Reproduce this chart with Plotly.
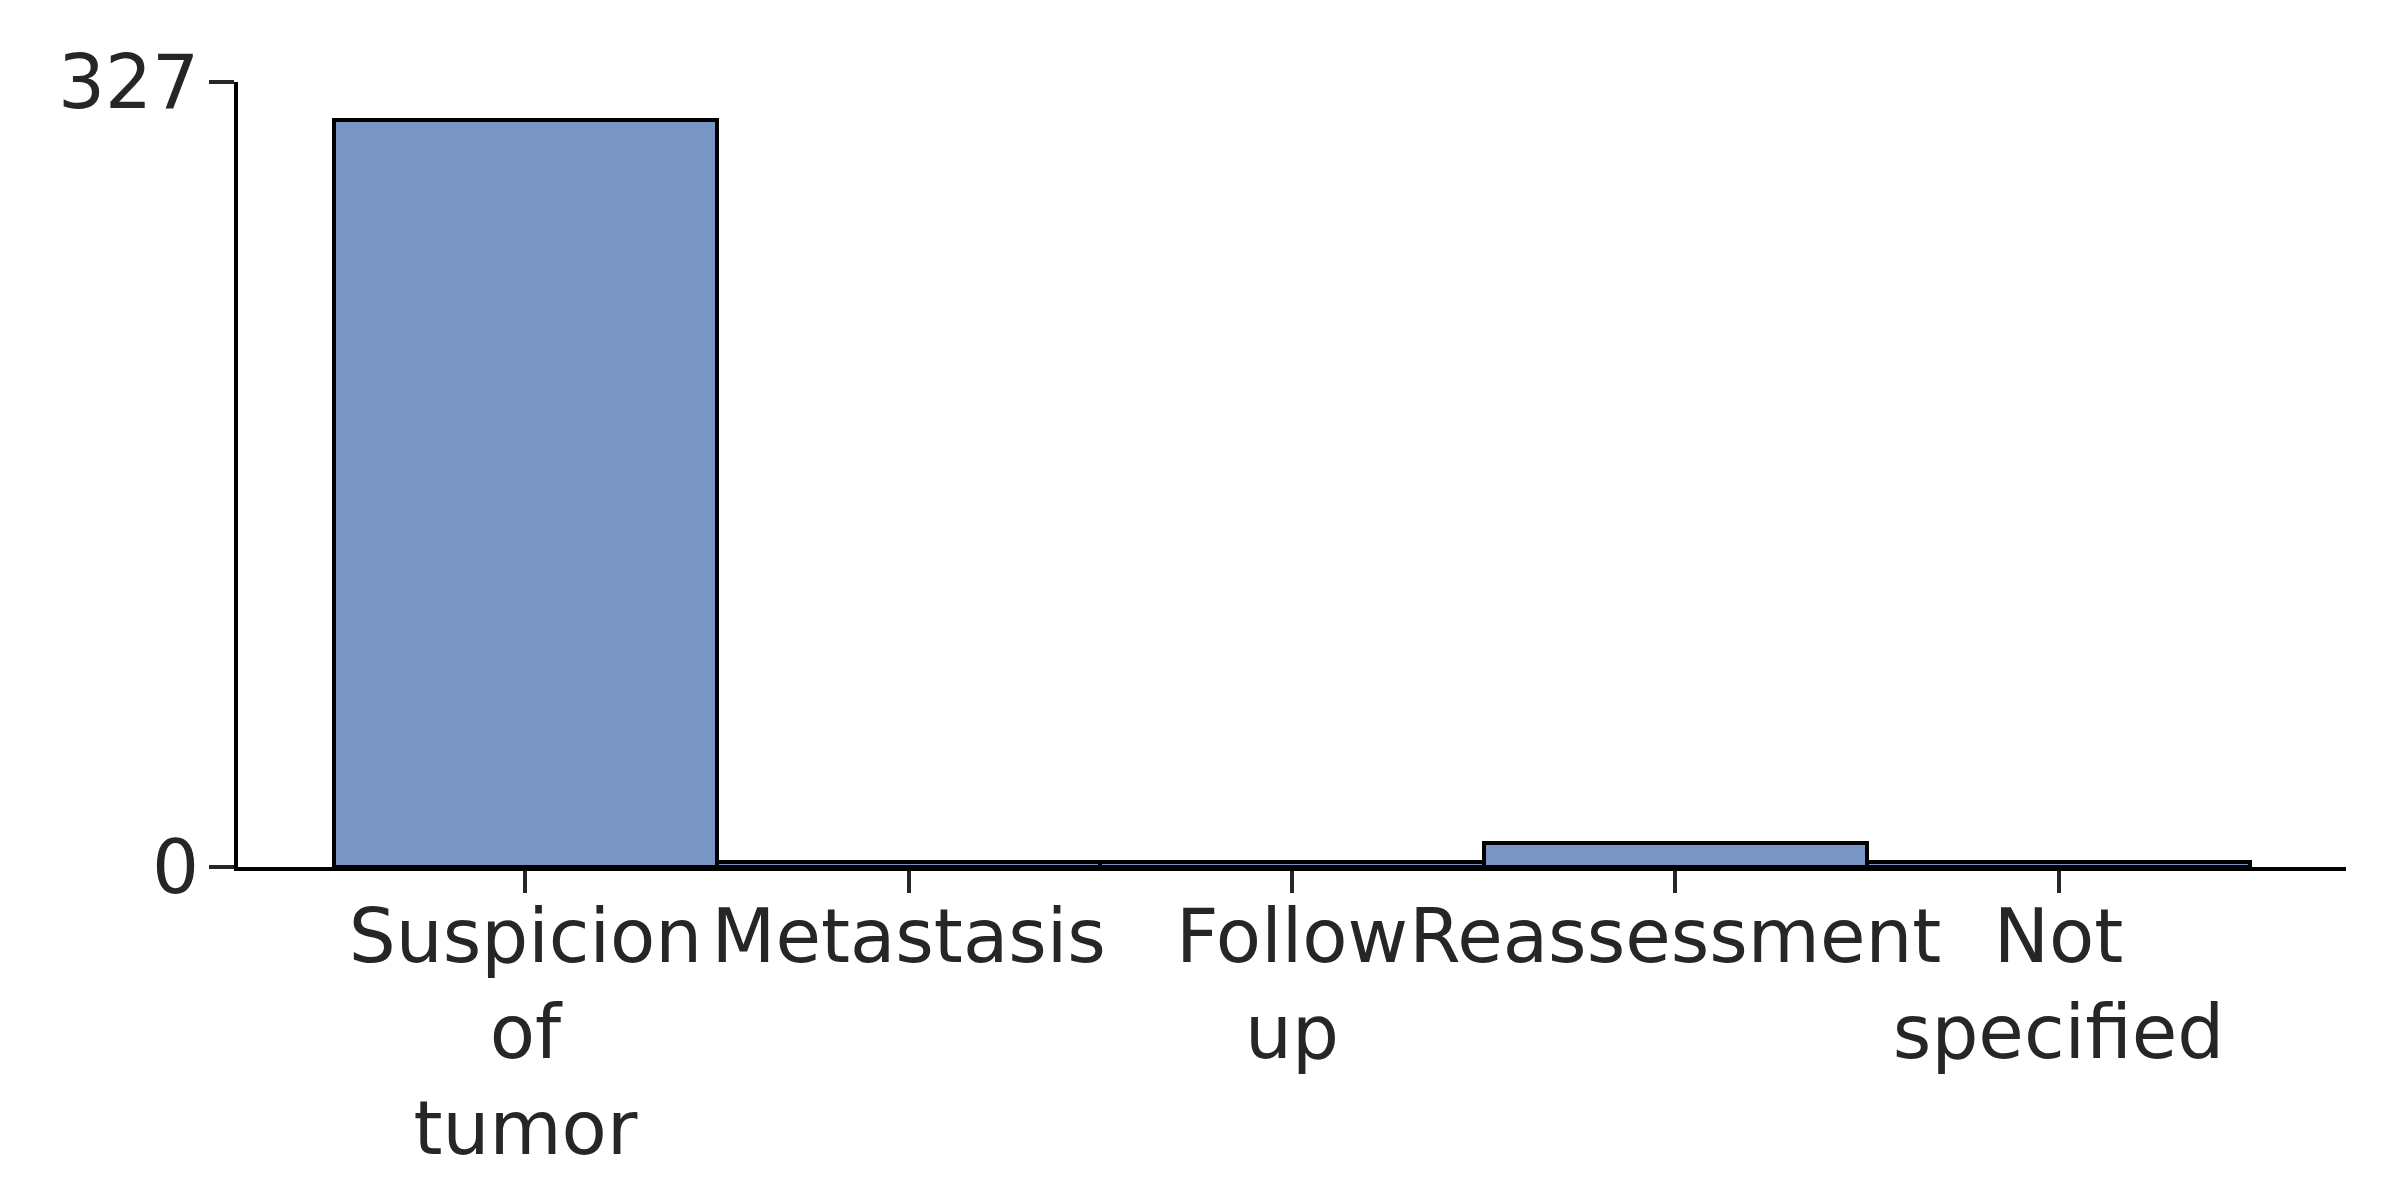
import plotly.graph_objects as go

categories = ["Suspicion of tumor", "Metastasis", "Follow up", "Reassessment", "Not specified"]
tick_labels = ["Suspicion<br>of<br>tumor", "Metastasis", "Follow<br>up", "Reassessment", "Not<br>specified"]
counts = [311, 2, 2, 10, 2]
y_ticks = [0, 327]

fig = go.Figure()
fig.add_trace(go.Bar(
    x=list(range(len(categories))),
    y=counts,
    width=1.0,
    marker=dict(color="rgba(76,114,176,0.75)", line=dict(color="black", width=4)),
    hovertext=categories,
))

font = dict(family="DejaVu Sans", size=74, color="#262626")
fig.update_layout(
    width=2400, height=1200,
    margin=dict(l=230, r=62, t=74, b=341),
    paper_bgcolor="white", plot_bgcolor="white",
    showlegend=False,
    font=font,
    bargap=0,
)
fig.update_xaxes(
    range=[-0.75, 4.75], automargin=False,
    tickmode="array", tickvals=list(range(len(categories))), ticktext=tick_labels,
    showgrid=False, zeroline=False,
    showline=True, linecolor="black", linewidth=4,
    ticks="outside", ticklen=22, tickwidth=4, tickcolor="#262626",
    tickfont=font, tickangle=0, ticklabelstandoff=-20,
)
fig.update_yaxes(
    range=[0, 327], automargin=False,
    tickmode="array", tickvals=y_ticks, ticktext=[str(v) for v in y_ticks],
    showgrid=False, zeroline=False,
    showline=True, linecolor="black", linewidth=4,
    ticks="outside", ticklen=25, tickwidth=4, tickcolor="#262626",
    tickfont=font, ticklabelstandoff=-5,
)

fig.write_html("out.html")
